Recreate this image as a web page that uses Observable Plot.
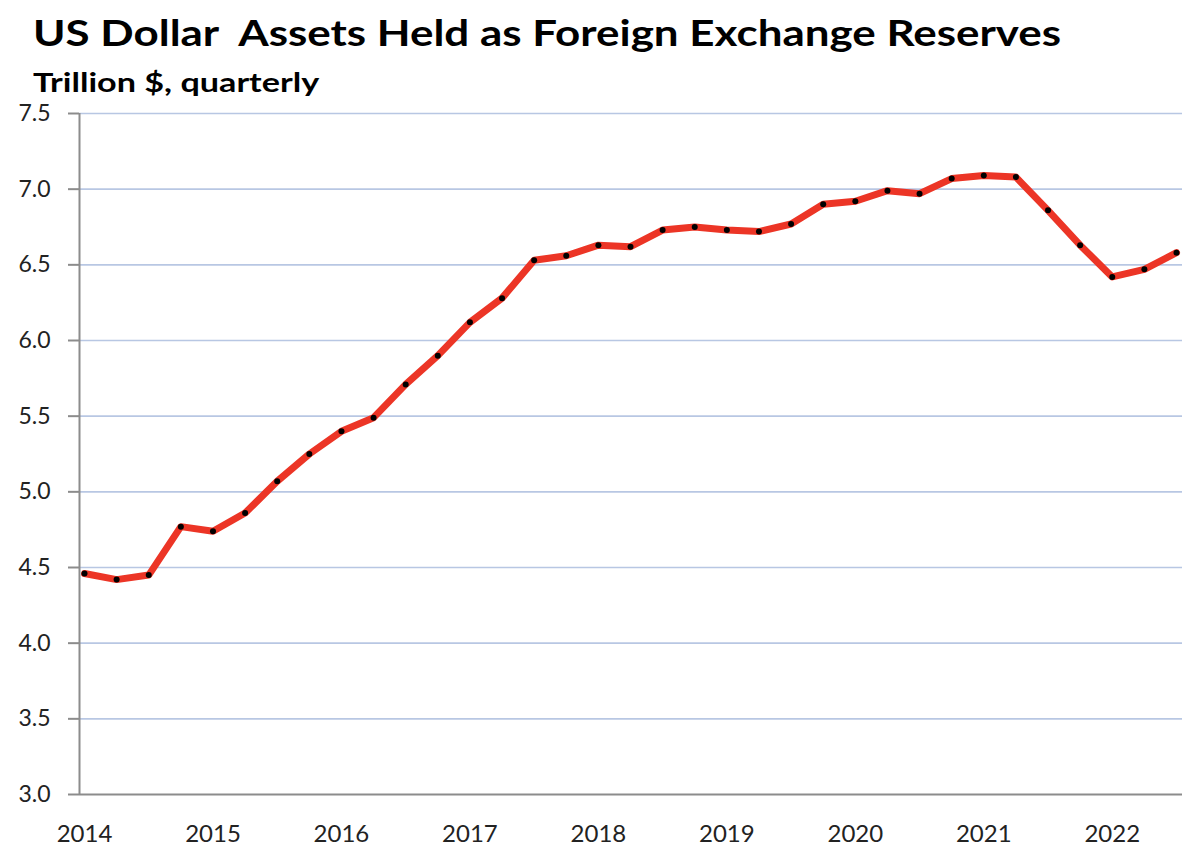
<!DOCTYPE html>
<html>
<head>
<meta charset="utf-8">
<script src="https://cdn.jsdelivr.net/npm/d3@7"></script>
<script src="https://cdn.jsdelivr.net/npm/@observablehq/plot@0.6"></script>
<style>
  html, body { margin: 0; padding: 0; background: #fff; }
  body { width: 1200px; height: 854px; overflow: hidden; font-family: Lato, "Open Sans", sans-serif; }
  #title { height: 43px; padding-top: 11px; padding-left: 33px; font-size: 36px; line-height: 43px; font-weight: bold; color: #000; white-space: nowrap; }
  #subtitle { height: 21.5px; padding-top: 14.5px; padding-left: 33px; font-size: 27px; line-height: 26px; font-weight: bold; color: #000; white-space: nowrap; overflow: visible; }
  .stretch { display: inline-block; transform: scaleX(1.22); transform-origin: 0 50%; }
  #subtitle .stretch { transform: scaleX(1.265); }
  #chart svg { display: block; }
</style>
</head>
<body>
<div id="title"><span class="stretch">US Dollar&nbsp; Assets Held as Foreign Exchange Reserves</span></div>
<div id="subtitle"><span class="stretch">Trillion $, quarterly</span></div>
<div id="chart"></div>
<script>
const startYear = 2014;
const yearLabels = ["2014", "2015", "2016", "2017", "2018", "2019", "2020", "2021", "2022"];
const quarters = [
  "2014Q1","2014Q2","2014Q3","2014Q4",
  "2015Q1","2015Q2","2015Q3","2015Q4",
  "2016Q1","2016Q2","2016Q3","2016Q4",
  "2017Q1","2017Q2","2017Q3","2017Q4",
  "2018Q1","2018Q2","2018Q3","2018Q4",
  "2019Q1","2019Q2","2019Q3","2019Q4",
  "2020Q1","2020Q2","2020Q3","2020Q4",
  "2021Q1","2021Q2","2021Q3","2021Q4",
  "2022Q1","2022Q2","2022Q3"
];
const values = [
  4.46, 4.42, 4.45, 4.77,
  4.74, 4.86, 5.07, 5.25,
  5.40, 5.49, 5.71, 5.90,
  6.12, 6.28, 6.53, 6.56,
  6.63, 6.62, 6.73, 6.75,
  6.73, 6.72, 6.77, 6.90,
  6.92, 6.99, 6.97, 7.07,
  7.09, 7.08, 6.86, 6.63,
  6.42, 6.47, 6.58
];
const yTicks = [3.0, 3.5, 4.0, 4.5, 5.0, 5.5, 6.0, 6.5, 7.0, 7.5];

const qIndex = q => (+q.slice(0, 4) - startYear) * 4 + (+q.slice(5) - 1);
const data = quarters.map((q, k) => ({ q, i: qIndex(q), value: values[k] }));
const xTicks = yearLabels.map(y => (+y - startYear) * 4);
const xMin = -0.156, xMax = 34.187;
const yMin = 3.0, yMax = 7.5;

const chart = Plot.plot({
  width: 1200,
  height: 764,
  marginTop: 23,
  marginBottom: 60,
  marginLeft: 79,
  marginRight: 18,
  style: { fontFamily: "Lato, 'Open Sans', sans-serif", fontSize: "23px", color: "#222", background: "#fff", overflow: "visible" },
  x: { domain: [xMin, xMax], ticks: xTicks, tickFormat: i => yearLabels[i / 4], tickSize: 0, tickPadding: 30, label: null },
  y: { domain: [yMin, yMax], ticks: yTicks, tickFormat: d => d.toFixed(1), tickSize: 11, tickPadding: 18, label: null },
  marks: [
    Plot.ruleY(yTicks.filter(t => t > yMin), { x1: xMin, x2: xMax, stroke: "#b8c7e3", strokeWidth: 1.6 }),
    Plot.axisY({ ticks: yTicks, tickFormat: d => d.toFixed(1), tickSize: 11, tickPadding: 18, stroke: "#8c8c8c", strokeWidth: 2, fill: "#222", fontSize: 23 }),
    Plot.axisX({ ticks: xTicks, tickFormat: i => yearLabels[i / 4], tickSize: 0, tickPadding: 30, fill: "#222", fontSize: 24 }),
    Plot.ruleX([xMin], { y1: yMin, y2: yMax, stroke: "#8c8c8c", strokeWidth: 2 }),
    Plot.ruleY([yMin], { x1: xMin, x2: xMax, stroke: "#8c8c8c", strokeWidth: 2 }),
    Plot.line(data, { x: "i", y: "value", stroke: "#ec3526", strokeWidth: 7, strokeLinejoin: "round", strokeLinecap: "round" }),
    Plot.dot(data, { x: "i", y: "value", r: 3, fill: "#000", stroke: "none" })
  ]
});
document.getElementById("chart").appendChild(chart);
</script>
</body>
</html>
